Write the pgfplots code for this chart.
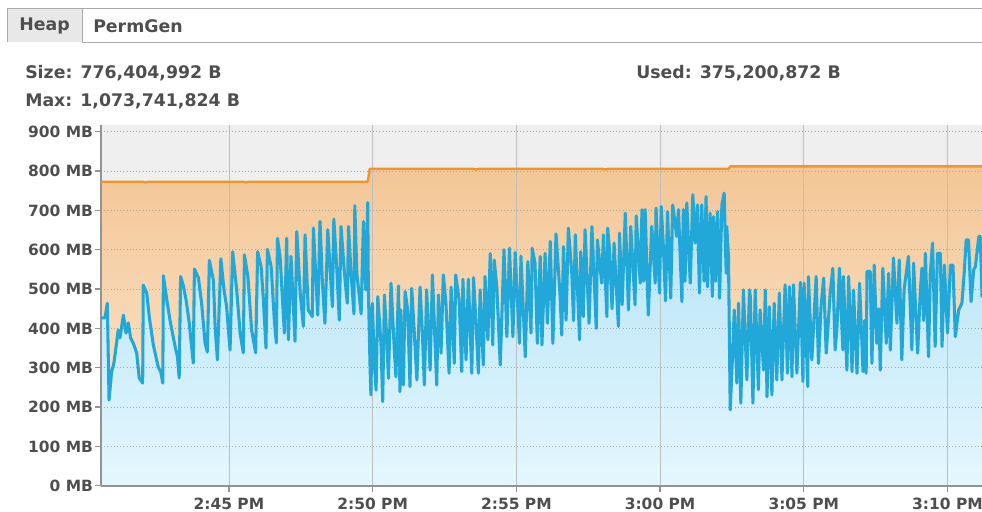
\documentclass[border=0pt]{standalone}
\usepackage{pgfplots}
\pgfplotsset{compat=1.18}
\usepackage{pgfplotstable}
\usepackage{fontspec}
\setmainfont{DejaVu Sans}
\definecolor{txt}{RGB}{78,78,78}
\definecolor{bluel}{RGB}{33,168,216}
\definecolor{orangel}{RGB}{240,150,40}
\definecolor{bggray}{RGB}{239,239,239}
\definecolor{tabgray}{RGB}{232,232,232}
\definecolor{bordergray}{RGB}{170,170,170}

\pgfplotstableread{
m mb
40.55 773
42.00 773
42.10 771
42.20 773
45.50 773
45.60 771
45.70 773
49.83 773
49.90 806
53.50 806
53.60 804
53.70 806
58.00 806
58.10 804
58.20 806
62.38 806
62.45 812
71.30 812
}\sizetab

\pgfplotstableread{
m mb
40.55 427
40.69 427
40.77 464
40.83 218
40.92 290
41.00 312
41.15 396
41.21 376
41.33 434
41.42 388
41.50 414
41.58 376
41.67 363
41.79 338
41.88 274
42.00 261
42.02 510
42.14 490
42.23 429
42.37 358
42.54 302
42.63 289
42.70 261
42.72 534
42.84 472
42.95 421
43.13 353
43.21 328
43.27 274
43.32 532
43.41 510
43.51 472
43.62 414
43.76 312
43.80 551
43.94 528
44.05 464
44.17 363
44.25 340
44.32 573
44.46 523
44.52 404
44.60 320
44.72 577
44.83 498
44.92 455
45.04 345
45.13 595
45.27 498
45.39 388
45.50 338
45.54 587
45.66 532
45.79 396
45.93 338
46.00 595
46.12 557
46.20 472
46.29 350
46.34 601
46.47 557
46.58 421
46.65 363
46.69 629
46.78 583
46.93 388
47.01 629
47.07 371
47.16 583
47.30 367
47.36 646
47.48 490
47.59 405
47.65 638
47.76 447
47.90 430
47.94 655
48.09 434
48.17 672
48.25 519
48.34 413
48.44 651
48.60 455
48.65 678
48.75 557
48.84 421
48.90 659
49.02 540
49.12 464
49.16 659
49.25 540
49.35 437
49.38 712
49.45 540
49.60 437
49.68 672
49.76 498
49.83 720
49.85 506
49.91 303
49.94 231
49.99 464
50.06 311
50.12 243
50.18 481
50.29 362
50.35 214
50.41 485
50.49 379
50.55 273
50.64 515
50.76 337
50.81 277
50.90 508
50.95 239
50.98 447
51.07 256
51.13 494
51.22 447
51.30 252
51.36 502
51.45 388
51.54 269
51.65 505
51.73 388
51.80 256
51.88 498
52.00 294
52.08 536
52.15 405
52.23 256
52.29 485
52.38 337
52.46 536
52.55 464
52.66 286
52.73 505
52.84 311
52.89 536
53.01 472
53.10 290
53.14 525
53.25 320
53.33 525
53.45 286
53.51 529
53.59 421
53.68 286
53.74 498
53.85 307
53.91 532
54.01 371
54.09 590
54.18 358
54.23 574
54.32 506
54.44 307
54.57 600
54.67 379
54.76 604
54.88 379
54.96 593
55.11 362
55.16 584
55.31 328
55.40 570
55.51 388
55.55 604
55.65 566
55.73 362
55.83 583
55.89 358
56.00 591
56.08 413
56.18 621
56.27 362
56.38 640
56.52 485
56.58 383
56.64 608
56.73 421
56.81 655
56.93 540
56.99 420
57.05 638
57.20 371
57.24 595
57.33 430
57.39 651
57.53 413
57.63 659
57.78 400
57.82 625
57.97 515
58.03 638
58.15 430
58.18 655
58.24 600
58.33 450
58.40 617
58.55 405
58.59 642
58.68 460
58.79 693
58.90 447
58.98 659
59.13 460
59.17 686
59.31 515
59.37 702
59.43 520
59.48 702
59.59 434
59.71 659
59.83 515
59.86 706
59.98 490
60.04 710
60.12 600
60.19 470
60.26 697
60.37 477
60.44 714
60.58 634
60.64 702
60.76 468
60.81 702
60.87 520
60.93 719
61.05 515
61.14 740
61.22 617
61.30 714
61.37 490
61.45 714
61.53 520
61.60 735
61.65 506
61.74 693
61.82 481
61.86 684
61.93 520
62.00 697
62.07 477
62.15 714
62.23 744
62.30 540
62.32 659
62.38 583
62.44 193
62.53 345
62.58 447
62.67 261
62.73 464
62.81 210
62.90 498
63.02 269
63.11 498
63.14 481
63.23 210
63.31 498
63.42 244
63.48 447
63.60 294
63.66 498
63.72 226
63.80 455
63.89 231
63.97 464
64.06 269
64.15 490
64.24 269
64.35 511
64.43 286
64.50 506
64.59 277
64.64 511
64.76 286
64.88 517
64.97 265
65.01 515
65.14 252
65.16 532
65.28 320
65.43 532
65.51 311
65.60 455
65.69 528
65.78 337
65.92 490
66.01 553
66.09 345
66.15 396
66.24 553
66.36 345
66.38 532
66.50 294
66.56 532
66.68 290
66.73 498
66.85 286
66.94 515
67.06 290
67.12 420
67.17 286
67.20 545
67.31 545
67.37 311
67.45 561
67.54 362
67.61 450
67.66 294
67.75 553
67.87 362
67.95 540
68.01 345
68.12 579
68.24 413
68.32 574
68.41 320
68.49 498
68.64 583
68.76 345
68.82 566
68.96 337
69.05 490
69.11 553
69.17 420
69.23 591
69.34 328
69.40 540
69.48 617
69.57 354
69.65 591
69.75 591
69.81 354
69.89 561
70.00 388
70.10 561
70.19 561
70.27 379
70.39 447
70.50 464
70.58 540
70.65 625
70.73 625
70.82 468
70.91 549
70.97 557
71.09 634
71.14 634
71.20 481
71.30 481
}\usedtab

\begin{document}
\begin{tikzpicture}
\begin{scope}[x=0.75pt,y=-0.75pt]
  % tab bar
  \draw[bordergray, line width=0.75pt] (7,8) -- (990,8);
  \draw[bordergray, line width=0.75pt] (82,42) -- (990,42);
  \filldraw[fill=tabgray, draw=bordergray, line width=0.75pt] (7,42) -- (7,8) -- (82,8) -- (82,42);
  \node[font=\bfseries\fontsize{13}{15}\selectfont, text=txt, anchor=center] at (44.5,26) {Heap};
  \node[font=\bfseries\fontsize{13}{15}\selectfont, text=txt, anchor=west, inner sep=0pt] at (93,26) {PermGen};
  % header texts
  \node[font=\bfseries\fontsize{13}{15}\selectfont, text=txt, anchor=west, inner sep=0pt] at (25,73) {Size: 776,404,992 B};
  \node[font=\bfseries\fontsize{13}{15}\selectfont, text=txt, anchor=west, inner sep=0pt] at (25,101) {Max: 1,073,741,824 B};
  \node[font=\bfseries\fontsize{13}{15}\selectfont, text=txt, anchor=west, inner sep=0pt] at (636,73) {Used: 375,200,872 B};
\end{scope}
\begin{axis}[
  set layers,
  at={(75.75pt,-364.3pt)}, anchor=south west,
  width=660.75pt, height=270.5pt, scale only axis,
  xmin=40.55, xmax=71.2, ymin=0, ymax=917,
  axis lines*=left,
  axis line style={draw=gray!85, line width=1.3pt},
  axis background/.style={fill=bggray},
  tick align=outside,
  major tick length=4.5pt,
  tick style={draw=gray!85, line width=0.9pt},
  xtick={45,50,55,60,65,70},
  xticklabels={2:45 PM,2:50 PM,2:55 PM,3:00 PM,3:05 PM,3:10 PM},
  ytick={0,100,200,300,400,500,600,700,800,900},
  yticklabels={0 MB,100 MB,200 MB,300 MB,400 MB,500 MB,600 MB,700 MB,800 MB,900 MB},
  ticklabel style={font=\bfseries\fontsize{11.6}{13}\selectfont, text=txt},
  yticklabel style={xshift=2pt},
  xticklabel style={yshift=-1pt},
  xmajorgrids, ymajorgrids,
  x grid style={draw=gray!50, line width=0.6pt},
  y grid style={draw=gray!70, dotted, line width=0.6pt},
  clip=true,
]
\addplot[on layer=axis background, draw=none, top color={rgb,255:red,243;green,198;blue,150}, bottom color={rgb,255:red,253;green,236;blue,214}] table[x=m,y=mb] {\sizetab} \closedcycle;
\addplot[on layer=axis background, draw=none, top color={rgb,255:red,178;green,226;blue,246}, bottom color={rgb,255:red,228;green,247;blue,254}] table[x=m,y=mb] {\usedtab} \closedcycle;
\addplot[orangel, line width=1.8pt, line join=round] table[x=m,y=mb] {\sizetab};
\addplot[bluel, line width=2.3pt, line join=round] table[x=m,y=mb] {\usedtab};
\end{axis}
\pgfresetboundingbox
\useasboundingbox (0,0) rectangle (736.5pt,-383.25pt);
\end{tikzpicture}
\end{document}
